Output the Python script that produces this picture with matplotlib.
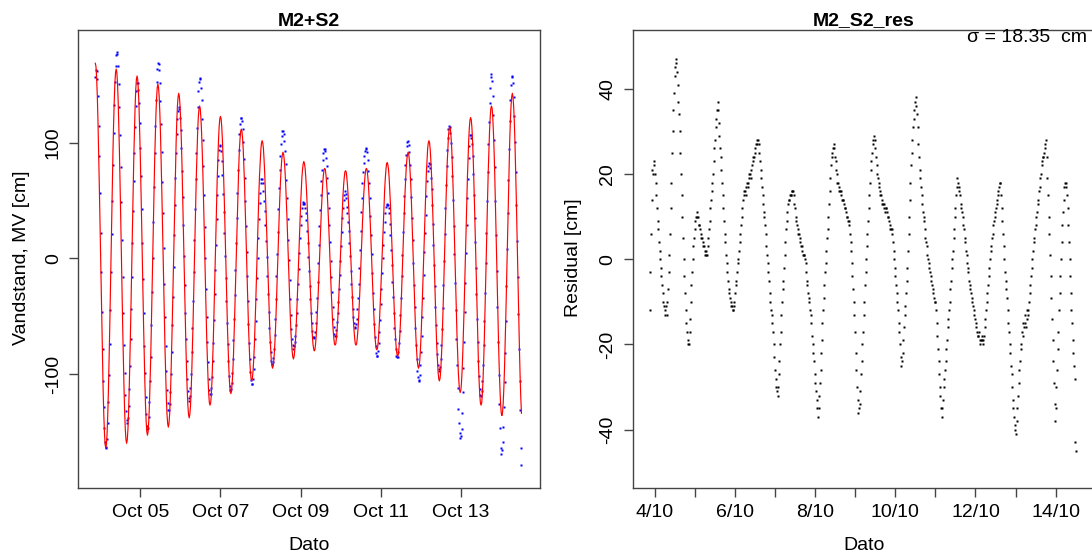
import numpy as np
import matplotlib
matplotlib.use("Agg")
import matplotlib.pyplot as plt

plt.rcParams['font.family'] = ['Liberation Sans', 'DejaVu Sans']
plt.rcParams['axes.unicode_minus'] = False

# sampling: start ~ Oct 3 21:00, one value every ~23 min (32 per tidal cycle)
start_day = 3.88
step_day = 0.01625

# M2+S2 fitted water level [cm] (one row per tidal cycle)
fit = [169, 166, 156, 141, 120, 95, 66, 35, 2, -30, -61, -90, -115, -136, -151, -161, -164, -161, -152, -136, -116, -91, -63, -32, 0, 32, 63, 91, 116, 136, 152, 161,
       164, 161, 152, 137, 116, 92, 64, 34, 2, -30, -60, -88, -112, -133, -148, -157, -160, -157, -148, -133, -113, -89, -62, -32, -1, 30, 60, 87, 111, 131, 146, 155,
       158, 155, 146, 132, 112, 89, 62, 33, 2, -28, -57, -84, -107, -127, -141, -150, -153, -150, -141, -127, -108, -86, -59, -31, -1, 29, 57, 84, 106, 125, 139, 148,
       151, 148, 140, 126, 108, 85, 59, 31, 2, -26, -54, -80, -102, -121, -135, -143, -146, -143, -135, -122, -104, -82, -57, -30, -2, 27, 54, 79, 101, 119, 132, 140,
       143, 140, 132, 119, 102, 81, 56, 30, 2, -25, -51, -76, -97, -114, -127, -135, -138, -135, -128, -115, -98, -78, -55, -29, -3, 23, 49, 72, 92, 109, 122, 129,
       132, 130, 122, 110, 94, 75, 52, 28, 2, -23, -47, -70, -89, -105, -117, -125, -127, -125, -118, -106, -90, -72, -50, -26, -2, 22, 46, 68, 86, 102, 114, 121,
       123, 121, 114, 103, 88, 70, 49, 26, 3, -20, -43, -64, -82, -97, -108, -115, -117, -115, -108, -98, -84, -66, -46, -25, -2, 20, 41, 61, 78, 93, 103, 110,
       112, 110, 104, 94, 80, 64, 45, 24, 3, -18, -39, -58, -74, -88, -98, -104, -106, -104, -98, -88, -76, -60, -42, -22, -2, 18, 38, 56, 72, 84, 94, 100,
       102, 100, 95, 85, 73, 58, 41, 23, 4, -16, -34, -51, -66, -78, -88, -93, -95, -93, -88, -79, -68, -54, -37, -20, -2, 17, 34, 51, 65, 76, 85, 90,
       92, 90, 85, 77, 66, 52, 37, 20, 2, -15, -32, -47, -61, -72, -80, -85, -87, -85, -80, -73, -62, -49, -34, -18, -2, 15, 31, 46, 59, 70, 77, 82,
       84, 82, 78, 70, 60, 48, 33, 18, 2, -14, -29, -44, -56, -66, -74, -78, -80, -79, -74, -67, -57, -45, -31, -16, -1, 14, 29, 43, 55, 65, 72, 77,
       78, 77, 72, 65, 56, 44, 31, 16, 2, -13, -28, -41, -53, -62, -69, -74, -75, -74, -69, -62, -53, -42, -28, -14, 0, 15, 29, 43, 54, 63, 70, 75,
       76, 75, 70, 63, 54, 43, 29, 15, 0, -14, -28, -42, -53, -62, -69, -74, -75, -74, -69, -62, -53, -41, -28, -13, 2, 16, 31, 44, 56, 65, 72, 77,
       78, 77, 72, 65, 55, 43, 30, 15, 0, -16, -31, -44, -56, -66, -73, -78, -79, -78, -73, -65, -55, -43, -29, -14, 2, 18, 33, 47, 59, 69, 77, 82,
       83, 81, 77, 69, 58, 46, 31, 15, -1, -17, -33, -48, -60, -71, -79, -83, -85, -83, -78, -70, -59, -46, -30, -14, 4, 21, 37, 53, 66, 77, 85, 90,
       92, 90, 85, 76, 65, 51, 34, 17, -2, -20, -37, -54, -68, -79, -88, -93, -95, -93, -88, -78, -66, -51, -34, -16, 4, 23, 41, 58, 73, 85, 95, 100,
       102, 100, 94, 84, 72, 56, 38, 18, -2, -22, -42, -60, -76, -88, -98, -104, -106, -104, -98, -87, -74, -57, -38, -18, 4, 26, 46, 65, 82, 95, 106, 112,
       114, 112, 105, 95, 80, 63, 43, 21, -1, -23, -45, -65, -82, -97, -107, -114, -116, -114, -107, -96, -81, -63, -43, -20, 3, 26, 49, 69, 87, 102, 113, 120,
       122, 120, 113, 101, 86, 67, 45, 22, -2, -27, -50, -72, -91, -106, -118, -125, -127, -125, -117, -105, -89, -70, -47, -23, 2, 28, 52, 75, 94, 110, 122, 130,
       132, 130, 122, 109, 93, 73, 49, 24, -2, -28, -53, -77, -97, -113, -126, -134, -136, -133, -125, -112, -95, -74, -50, -24, 4, 31, 57, 81, 102, 119, 132, 140,
       143, 140, 132, 119, 101, 79, 54, 27, -1, -29, -56, -81, -103, -121, -134]

resid = [-12, -3, 6, 14, 21, 20, 23, 22, 20, 18, 15, 12, 9, 7, 4, 2, 0, -2, -4, -6, -8, -10, -11, -13, -12, -11, -13, -10, -7, -3, 1, 6,
         12, 18, 25, 30, 35, 39, 43, 45, 47, 46, 44, 41, 37, 34, 30, 25, 20, 15, 10, 5, 0, -4, -8, -12, -15, -17, -19, -20, -20, -17, -14, -10,
         -6, -3, 0, 3, 5, 7, 9, 10, 11, 10, 10, 8, 8, 7, 6, 5, 5, 3, 4, 3, 2, 1, 1, 2, 1, 3, 5, 7, 9, 12, 14, 16,
         18, 20, 23, 26, 28, 31, 33, 35, 37, 35, 32, 29, 26, 24, 21, 18, 15, 12, 9, 6, 4, 1, -1, -3, -5, -7, -8, -9, -10, -11, -11, -12,
         -12, -11, -10, -8, -6, -5, -3, -1, 0, 2, 4, 6, 8, 10, 12, 14, 15, 16, 16, 15, 17, 18, 18, 17, 19, 20, 20, 19, 21, 22, 23, 24,
         24, 25, 26, 27, 27, 28, 28, 27, 25, 23, 21, 19, 17, 15, 13, 11, 10, 8, 6, 3, 1, -1, -3, -5, -8, -10, -12, -13, -15, -17, -20, -23,
         -26, -28, -30, -31, -32, -30, -27, -24, -20, -17, -13, -10, -7, -5, -2, 1, 4, 7, 9, 11, 13, 14, 14, 15, 15, 15, 16, 16, 16, 15, 13, 12,
         10, 9, 8, 7, 6, 6, 5, 4, 3, 3, 2, 1, 1, 1, 0, -1, -3, -5, -6, -8, -9, -10, -12, -13, -15, -18, -20, -22, -24, -27, -29, -31,
         -33, -35, -37, -35, -32, -29, -26, -22, -19, -15, -12, -9, -6, -3, -1, 2, 5, 7, 10, 13, 16, 19, 22, 24, 25, 26, 27, 26, 24, 23, 21, 20,
         18, 18, 17, 16, 16, 16, 15, 14, 14, 14, 13, 12, 12, 11, 10, 10, 9, 9, 8, 6, 4, 2, -1, -4, -7, -10, -13, -17, -22, -26, -30, -33,
         -36, -35, -34, -31, -27, -24, -20, -17, -13, -10, -6, -3, 0, 3, 6, 9, 12, 15, 18, 21, 23, 25, 27, 28, 29, 28, 26, 24, 22, 20, 19, 18,
         17, 16, 15, 15, 14, 13, 13, 13, 12, 11, 12, 12, 11, 10, 10, 9, 8, 7, 7, 7, 6, 4, 2, 0, -2, -4, -6, -8, -10, -12, -15, -17,
         -20, -23, -25, -24, -22, -19, -16, -13, -11, -8, -5, -2, 2, 6, 10, 14, 18, 22, 25, 28, 31, 33, 35, 37, 38, 36, 34, 31, 27, 24, 21, 19,
         17, 15, 13, 11, 10, 9, 7, 5, 4, 3, 1, 0, -1, -2, -3, -4, -5, -6, -7, -8, -9, -10, -10, -12, -15, -18, -21, -24, -27, -30, -32, -35,
         -37, -35, -33, -30, -28, -26, -24, -21, -19, -16, -14, -12, -10, -7, -5, -2, 0, 2, 5, 7, 10, 12, 15, 17, 19, 18, 17, 16, 15, 13, 12, 11,
         10, 8, 7, 5, 4, 2, 1, -1, -2, -3, -5, -6, -7, -8, -9, -10, -11, -12, -13, -14, -15, -16, -17, -18, -18, -17, -19, -20, -19, -18, -19, -20,
         -19, -18, -16, -14, -12, -10, -8, -6, -4, -2, 0, 2, 3, 5, 6, 8, 9, 10, 11, 12, 13, 14, 15, 16, 17, 18, 18, 15, 12, 9, 6, 3,
         0, -3, -5, -7, -9, -12, -15, -17, -20, -22, -25, -27, -30, -33, -35, -37, -39, -40, -41, -38, -35, -32, -29, -26, -24, -21, -20, -17, -18, -15, -16, -13,
         -15, -16, -14, -12, -13, -12, -10, -8, -6, -4, -2, 0, 2, 4, 5, 7, 8, 10, 11, 13, 14, 16, 17, 19, 20, 22, 23, 24, 24, 25, 26, 27,
         28, 24, 19, 15, 10, 6, 1, -4, -9, -14, -19, -24, -29, -34, -38, -35, -30, -26, -21, -17, -12, -8, -4, 0, 4, 8, 11, 14, 17, 18, 18, 17,
         15, 12, 8, 4, 0, -4, -8, -12, -15, -19, -22, -25, -28, -43, -45]

sigma = 18.35

left_ticks = [5, 7, 9, 11, 13]
left_labels = ['Oct 05', 'Oct 07', 'Oct 09', 'Oct 11', 'Oct 13']
right_ticks = list(range(4, 15))
right_labels = ['4/10', '', '6/10', '', '8/10', '', '10/10', '', '12/10', '', '14/10']

t = start_day + step_day * np.arange(len(fit))
obs = np.array(fit) + np.array(resid)

W, H = 1092, 553
fig = plt.figure(figsize=(W / 100, H / 100), dpi=100)


def px_box(x0, x1, y0, y1):
    return [x0 / W, 1 - y1 / H, (x1 - x0) / W, (y1 - y0) / H]


ax1 = fig.add_axes(px_box(78.3, 540, 30, 488))
ax2 = fig.add_axes(px_box(632.7, 1094.6, 30, 488))

# left: observed (blue points) + fit (red line)
ax1.plot(t, obs, ls='none', marker='s', ms=1.9, mec='none', mfc='blue')
ax1.plot(t, fit, color='red', lw=0.85)
ax1.set_xlim(3.455, 14.97)
ax1.set_ylim(-198.7, 197.8)
ax1.set_xticks(left_ticks)
ax1.set_xticklabels(left_labels)
ax1.set_yticks([-100, 0, 100])

# right: residual
ax2.plot(t, resid, ls='none', marker='s', ms=2.0, mec='none', mfc='black')
ax2.set_xlim(3.455, 14.97)
ax2.set_ylim(-53.7, 53.8)
ax2.set_xticks(right_ticks)
ax2.set_xticklabels(right_labels)
ax2.set_yticks([-40, -20, 0, 20, 40])

for ax in (ax1, ax2):
    for s in ax.spines.values():
        s.set_color('#444444')
        s.set_linewidth(1.0)
    ax.tick_params(direction='out', length=6.8, width=1.0, color='#444444',
                   labelsize=14, pad=5)
    ax.tick_params(axis='y', labelrotation=90)
    for lab in ax.get_yticklabels():
        lab.set_va('center')

fs = 14
fig.text(309 / W, 1 - 21 / H, 'M2+S2', ha='center', va='center', fontsize=fs, fontweight='bold')
fig.text(863.6 / W, 1 - 21 / H, 'M2_S2_res', ha='center', va='center', fontsize=fs, fontweight='bold')
fig.text(22 / W, 1 - 258 / H, 'Vandstand, MV [cm]', rotation=90, ha='center', va='center', fontsize=fs)
fig.text(574 / W, 1 - 258 / H, 'Residual [cm]', rotation=90, ha='center', va='center', fontsize=fs)
fig.text(309 / W, 1 - 545 / H, 'Dato', ha='center', va='center', fontsize=fs)
fig.text(863.6 / W, 1 - 545 / H, 'Dato', ha='center', va='center', fontsize=fs)
fig.text(1087 / W, 1 - 37 / H, f'σ = {sigma:.2f}  cm', ha='right', va='center', fontsize=fs)

fig.savefig('out.png', dpi=100)
